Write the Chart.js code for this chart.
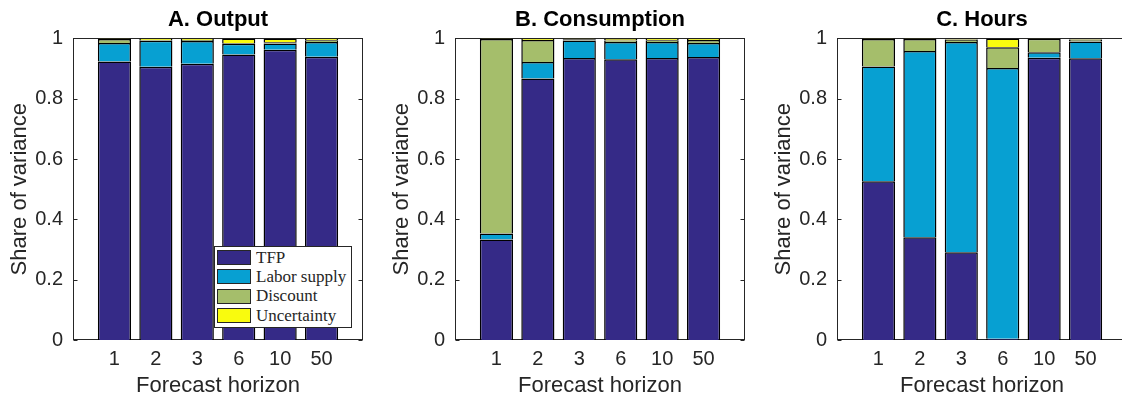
<!DOCTYPE html>
<html>
<head>
<meta charset="utf-8">
<script src="https://cdn.jsdelivr.net/npm/chart.js@4.4.0/dist/chart.umd.min.js"></script>
<style>
  body { margin: 0; width: 1122px; height: 397px; overflow: hidden; background: #fff; position: relative; }
  canvas { position: absolute; top: 0; }
  #legend { position: absolute; left: 214px; top: 246px; width: 138px; height: 82px; border: 1px solid #262626;
            background: #fff; box-sizing: border-box; padding-top: 1px;
            font-family: "Liberation Serif", "DejaVu Serif", serif; font-size: 17px; color: #262626; }
  .row { height: 19.3px; display: flex; align-items: center; white-space: nowrap; }
  .sw { width: 34px; height: 15px; border: 1px solid #262626; box-sizing: border-box; margin: 0 5px 0 2px; }
</style>
</head>
<body>
<div id="legend"></div>
<script>
const horizons = ['1', '2', '3', '6', '10', '50'];
const shockNames = ['TFP', 'Labor supply', 'Discount', 'Uncertainty'];
const shockColors = ['#352a87', '#07a0d2', '#a5be6b', '#f9fb0e'];

// A. Output
const outTfp      = [0.923, 0.906, 0.916, 0.947, 0.962, 0.939];
const outLabor    = [0.062, 0.086, 0.075, 0.035, 0.021, 0.049];
const outDiscount = [0.013, 0.003, 0.004, 0.003, 0.004, 0.006];
const outUncert   = [0.002, 0.005, 0.005, 0.015, 0.013, 0.006];

// B. Consumption
const conTfp      = [0.333, 0.867, 0.935, 0.931, 0.935, 0.938];
const conLabor    = [0.020, 0.055, 0.058, 0.057, 0.053, 0.047];
const conDiscount = [0.645, 0.073, 0.004, 0.005, 0.006, 0.010];
const conUncert   = [0.002, 0.005, 0.003, 0.007, 0.006, 0.005];

// C. Hours
const hrsTfp      = [0.526, 0.341, 0.291, 0.004, 0.936, 0.934];
const hrsLabor    = [0.381, 0.617, 0.697, 0.898, 0.018, 0.056];
const hrsDiscount = [0.091, 0.040, 0.008, 0.069, 0.045, 0.006];
const hrsUncert   = [0.002, 0.002, 0.004, 0.029, 0.001, 0.004];

const panels = [
  { title: 'A. Output',      left: 0,   series: [outTfp, outLabor, outDiscount, outUncert] },
  { title: 'B. Consumption', left: 382, series: [conTfp, conLabor, conDiscount, conUncert] },
  { title: 'C. Hours',       left: 764, series: [hrsTfp, hrsLabor, hrsDiscount, hrsUncert] }
];

const sans = '"Liberation Sans", Arial, sans-serif';
const axisCol = '#262626';

// matlab style box + inward ticks, drawn under the bars
const frame = {
  id: 'frame',
  beforeDatasetsDraw(chart) {
    const { ctx, chartArea: a, scales: { y } } = chart;
    const l = Math.round(a.left) + 0.5, r = Math.round(a.right) - 0.5;
    const t = Math.round(a.top) + 0.5, b = Math.round(a.bottom) - 0.5;
    ctx.save();
    ctx.strokeStyle = axisCol;
    ctx.lineWidth = 1;
    ctx.strokeRect(l, t, r - l, b - t);
    ctx.beginPath();
    y.ticks.forEach(tk => {
      const py = Math.round(y.getPixelForValue(tk.value)) + 0.5;
      ctx.moveTo(l, py); ctx.lineTo(l + 4, py);
      ctx.moveTo(r, py); ctx.lineTo(r - 4, py);
    });
    ctx.stroke();
    ctx.restore();
  }
};

panels.forEach((p, i) => {
  const cv = document.createElement('canvas');
  cv.width = 380;
  cv.height = 397;
  cv.style.left = p.left + 'px';
  document.body.insertBefore(cv, document.getElementById('legend'));

  new Chart(cv, {
    type: 'bar',
    data: {
      labels: ['', ...horizons, ''],
      datasets: p.series.map((vals, k) => ({
        label: shockNames[k],
        data: [null, ...vals, null],
        backgroundColor: shockColors[k],
        borderColor: '#000',
        borderWidth: 1.5,
        borderSkipped: 'start',
        categoryPercentage: 1,
        barPercentage: 0.8
      }))
    },
    options: {
      responsive: false,
      animation: false,
      events: [],
      layout: { padding: { left: 0, right: 17, top: 0, bottom: 0 } },
      plugins: {
        legend: { display: false },
        tooltip: { enabled: false },
        title: {
          display: true,
          fullSize: false,   // centre over the plot box, not the canvas
          text: p.title,
          color: '#000',
          font: { family: sans, size: 22, weight: 'bold', lineHeight: 1.2 },
          padding: { top: 7, bottom: 5 }
        }
      },
      scales: {
        x: {
          stacked: true,
          offset: false,
          grid: { display: false, drawTicks: false },
          border: { display: false },
          ticks: { autoSkip: false, maxRotation: 0, padding: 7, color: axisCol, font: { family: sans, size: 20 } },
          title: { display: true, text: 'Forecast horizon', color: axisCol,
                   font: { family: sans, size: 22, lineHeight: 1 }, padding: { top: 0, bottom: 0 } },
          afterFit: s => { s.height = 57; }
        },
        y: {
          stacked: true,
          min: 0,
          max: 1,
          grid: { display: false, drawTicks: false },
          border: { display: false },
          ticks: { stepSize: 0.2, padding: 10, color: axisCol, font: { family: sans, size: 20 },
                   callback: v => String(+v.toFixed(1)) },
          title: { display: true, text: 'Share of variance', color: axisCol,
                   font: { family: sans, size: 22, lineHeight: 1 }, padding: { top: 9, bottom: 0 } },
          afterFit: s => { s.width = 73; }
        }
      }
    },
    plugins: [frame]
  });
});

// legend sits inside panel A
const lg = document.getElementById('legend');
shockNames.forEach((name, k) => {
  const row = document.createElement('div');
  row.className = 'row';
  const sw = document.createElement('div');
  sw.className = 'sw';
  sw.style.background = shockColors[k];
  const tx = document.createElement('span');
  tx.textContent = name;
  row.appendChild(sw);
  row.appendChild(tx);
  lg.appendChild(row);
});
</script>
</body>
</html>
